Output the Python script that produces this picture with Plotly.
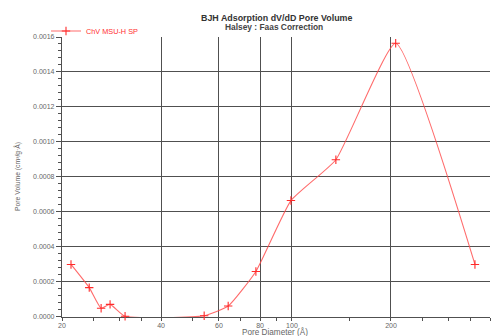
import plotly.graph_objects as go

diameter = [21.3, 24.2, 26.3, 28.0, 31.1, 54.1, 64.0, 77.7, 99.3, 136, 206.7, 360]
dvdd = [0.000297, 0.000164, 0.0000457, 0.0000686, 0.0, 0.000003, 0.0000589,
        0.000257, 0.000663, 0.000897, 0.001564, 0.000297]
series_name = "ChV MSU-H SP"
x_ticks = [20, 40, 60, 80, 100, 200, 400]
x_minor = [25, 30, 35, 50, 70, 90, 150, 250, 300, 350]

fig = go.Figure()
fig.add_trace(go.Scatter(
    x=diameter, y=dvdd, name=series_name, mode="lines+markers", cliponaxis=False,
    line=dict(color="rgba(255,70,70,0.8)", width=1.1, shape="spline", smoothing=0.45),
    marker=dict(symbol="cross-thin", size=6, line=dict(color="#ff2a2a", width=1.1)),
))

font = "Liberation Sans, Arial, sans-serif"
grid = "#505050"
L, R, T, B = 62, 1, 37, 19
W, H = 491, 336
pw, ph = W - L - R, H - T - B


def px(x):
    return (x - L) / pw


def py(y):
    return 1 - (y - T) / ph


fig.update_layout(
    width=W, height=H,
    margin=dict(l=L, r=R, t=T, b=B, autoexpand=False),
    paper_bgcolor="white", plot_bgcolor="white",
    font=dict(family=font, size=7, color="#666"),
    showlegend=True,
    legend=dict(x=px(46), y=py(31), xanchor="left", yanchor="middle",
                bgcolor="rgba(0,0,0,0)", font=dict(color="#ff3030", size=7.3),
                itemwidth=30, tracegroupgap=0),
    xaxis=dict(type="log", range=[1.30103, 2.60206], tickvals=x_ticks,
               ticktext=[str(v) for v in x_ticks], layer="below traces",
               showgrid=True, gridcolor=grid, gridwidth=1.3,
               showline=True, linecolor=grid, linewidth=1.2,
               ticks="outside", ticklen=3, tickcolor=grid, ticklabelstandoff=-2,
               minor=dict(tickvals=x_minor, ticks="outside", ticklen=3,
                          tickcolor=grid, showgrid=False),
               zeroline=False, tickfont=dict(size=7, color="#666")),
    yaxis=dict(range=[-0.000004, 0.0016], tickvals=[i * 0.0002 for i in range(9)],
               tickformat=".4f", layer="below traces",
               showgrid=True, gridcolor=grid, gridwidth=1.3,
               showline=True, linecolor=grid, linewidth=1.2,
               ticks="outside", ticklen=5, tickcolor=grid,
               minor=dict(tickvals=[i * 0.00004 for i in range(41)], ticks="outside",
                          ticklen=3, tickcolor=grid, showgrid=False),
               zeroline=False, tickfont=dict(size=7, color="#666")),
    annotations=[
        dict(text="<b>BJH Adsorption dV/dD Pore Volume</b>", x=px(276.5), y=py(17.5),
             font=dict(size=8.9, color="#333")),
        dict(text="<b>Halsey : Faas Correction</b>", x=px(274), y=py(27.5),
             font=dict(size=8.4, color="#444")),
        dict(text="Pore Diameter (Å)", x=px(275), y=py(332),
             font=dict(size=8.2, color="#666")),
        dict(text="Pore Volume (cm³/g·Å)", x=px(17), y=py(177), textangle=-90,
             font=dict(size=6.8, color="#666")),
    ],
)
for a in fig.layout.annotations:
    a.xref = "paper"
    a.yref = "paper"
    a.showarrow = False
    a.xanchor = "center"
    a.yanchor = "middle"

fig.write_html("out.html", config={"displayModeBar": False},
               post_script="document.body.style.margin='0';document.body.style.overflow='hidden';")
